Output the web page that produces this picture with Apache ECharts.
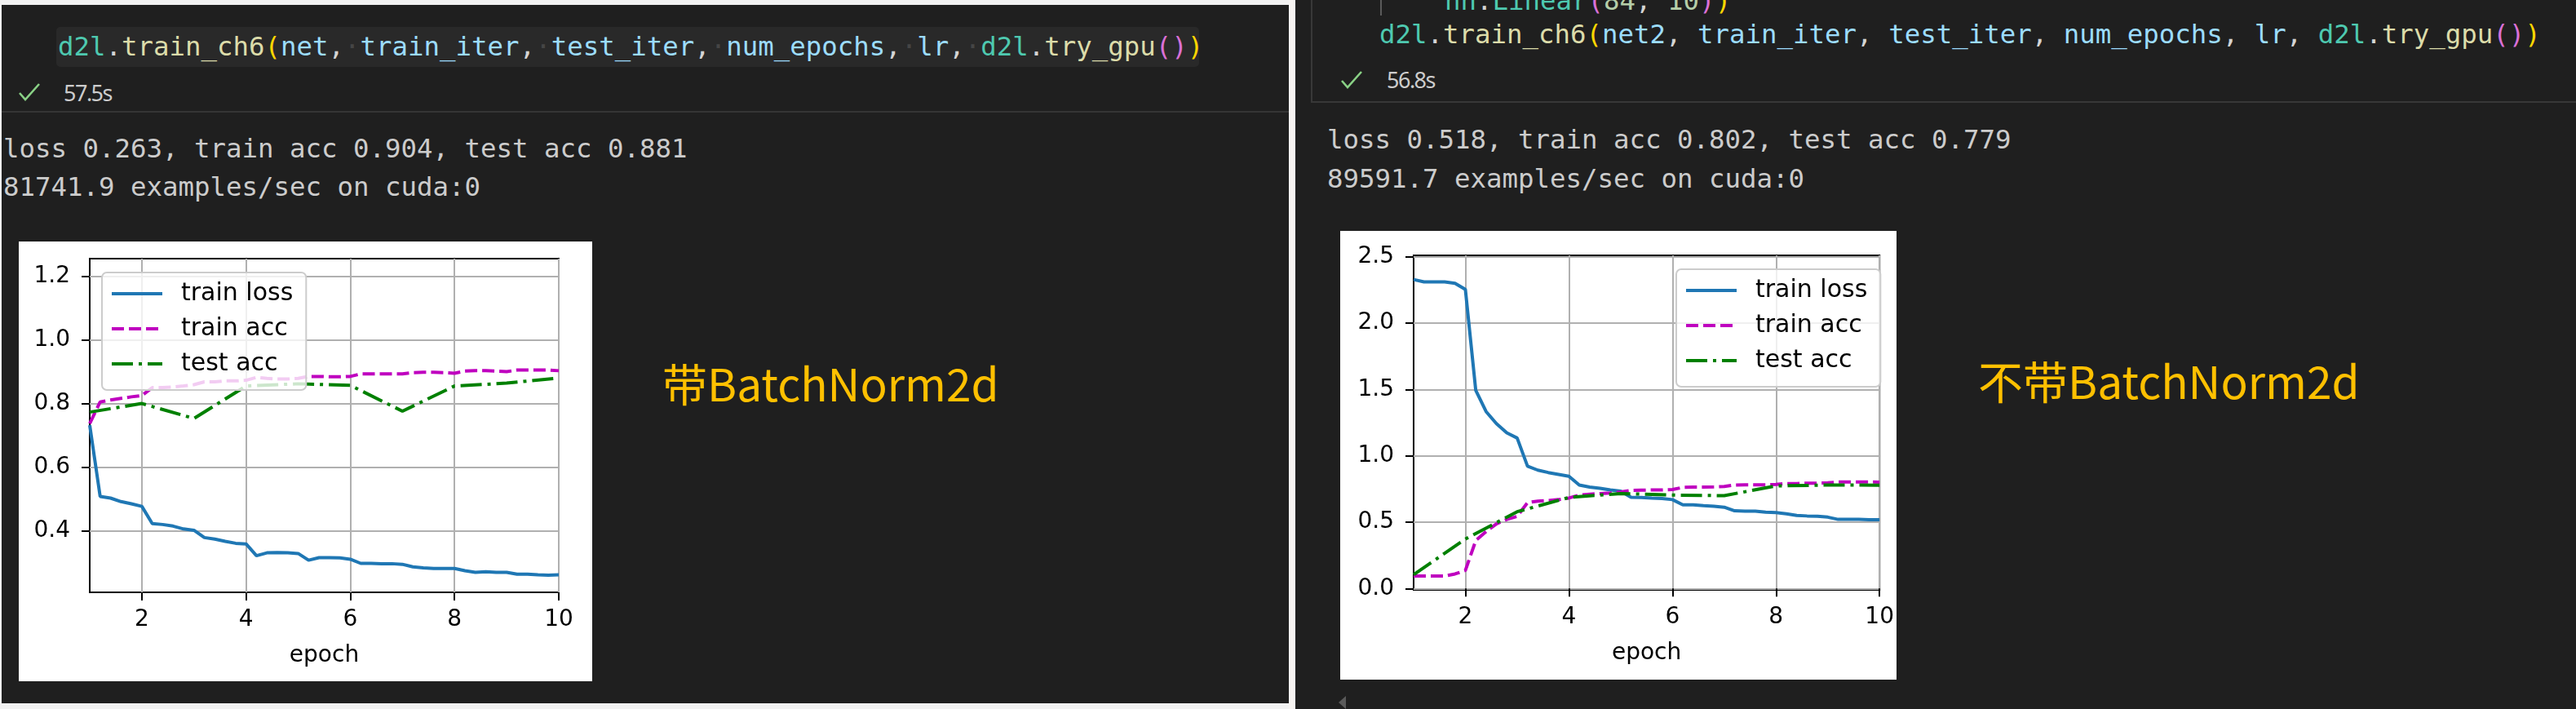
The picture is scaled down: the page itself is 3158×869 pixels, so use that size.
<!DOCTYPE html>
<html>
<head>
<meta charset="utf-8">
<script src="https://cdn.jsdelivr.net/npm/echarts@6/dist/echarts.min.js"></script>
<style>
html,body{margin:0;padding:0;width:3158px;height:869px;overflow:hidden;background:#1f1f1f;}
.abs{position:absolute;white-space:pre;}
.mono{font-family:"DejaVu Sans Mono",monospace;font-size:32.4px;line-height:32px;}
.out{color:#cccccc;}
.t{color:#4EC9B0}.p{color:#D4D4D4}.f{color:#DCDCAA}.v{color:#9CDCFE}.b1{color:#FFD700}.b2{color:#DA70D6}.n{color:#B5CEA8}.ws{color:#454545}
.time{font-family:"Noto Sans",sans-serif;font-size:27px;line-height:27px;color:#cccccc;letter-spacing:-1.5px;}
.note{font-family:"Noto Sans CJK SC",sans-serif;font-size:55px;line-height:55px;color:#FFC000;}
.box{position:absolute;background:#ffffff;}
</style>
</head>
<body>
<!-- window chrome -->
<div class="abs" style="left:0;top:0;width:1588px;height:6px;background:#f2f2f2;"></div>
<div class="abs" style="left:0;top:0;width:2px;height:869px;background:#f2f2f2;"></div>
<div class="abs" style="left:0;top:862px;width:1588px;height:7px;background:#f2f2f2;"></div>
<div class="abs" style="left:1580px;top:0;width:8px;height:869px;background:#f7f4f2;"></div>

<!-- left cell -->
<div class="abs" style="left:69px;top:33px;width:1401px;height:49px;background:#292929;border-radius:5px;"></div>
<div class="abs mono" style="left:71px;top:41px;"><span class="t">d2l</span><span class="p">.</span><span class="f">train_ch6</span><span class="b1">(</span><span class="v">net</span><span class="p">,</span><span class="ws">·</span><span class="v">train_iter</span><span class="p">,</span><span class="ws">·</span><span class="v">test_iter</span><span class="p">,</span><span class="ws">·</span><span class="v">num_epochs</span><span class="p">,</span><span class="ws">·</span><span class="v">lr</span><span class="p">,</span><span class="ws">·</span><span class="t">d2l</span><span class="p">.</span><span class="f">try_gpu</span><span class="b2">()</span><span class="b1">)</span></div>
<svg class="abs" style="left:22px;top:101px;" width="28" height="24"><polyline points="2,13 9,21 26,2" fill="none" stroke="#89d185" stroke-width="2.6"/></svg>
<div class="abs time" style="left:78px;top:100px;">57.5s</div>
<div class="abs" style="left:2px;top:136px;width:1578px;height:2px;background:#353535;"></div>
<div class="abs mono out" style="left:4px;top:166px;">loss 0.263, train acc 0.904, test acc 0.881</div>
<div class="abs mono out" style="left:4px;top:213px;">81741.9 examples/sec on cuda:0</div>
<div class="box" style="left:23px;top:296px;width:703px;height:539px;"><div id="c1" style="width:703px;height:539px;"></div></div>
<div class="abs note" style="left:812px;top:441px;">带BatchNorm2d</div>

<!-- right cell -->
<div class="abs" style="left:1607px;top:-4px;width:1560px;height:128px;border-left:2px solid #383838;border-bottom:2px solid #383838;"></div>
<div class="abs" style="left:1692px;top:0;width:2px;height:19px;background:#5a5a5a;"></div>
<div class="abs mono" style="left:1771px;top:-15px;"><span class="t">nn</span><span class="p">.</span><span class="t">Linear</span><span class="b2">(</span><span class="n">84</span><span class="p">, </span><span class="n">10</span><span class="b2">)</span><span class="b1">)</span></div>
<div class="abs mono" style="left:1691px;top:26px;"><span class="t">d2l</span><span class="p">.</span><span class="f">train_ch6</span><span class="b1">(</span><span class="v">net2</span><span class="p">, </span><span class="v">train_iter</span><span class="p">, </span><span class="v">test_iter</span><span class="p">, </span><span class="v">num_epochs</span><span class="p">, </span><span class="v">lr</span><span class="p">, </span><span class="t">d2l</span><span class="p">.</span><span class="f">try_gpu</span><span class="b2">()</span><span class="b1">)</span></div>
<svg class="abs" style="left:1643px;top:86px;" width="28" height="24"><polyline points="2,13 9,21 26,2" fill="none" stroke="#89d185" stroke-width="2.6"/></svg>
<div class="abs time" style="left:1700px;top:84px;">56.8s</div>
<div class="abs mono out" style="left:1627px;top:155px;">loss 0.518, train acc 0.802, test acc 0.779</div>
<div class="abs mono out" style="left:1627px;top:203px;">89591.7 examples/sec on cuda:0</div>
<div class="box" style="left:1643px;top:283px;width:682px;height:550px;"><div id="c2" style="width:682px;height:550px;"></div></div>
<div class="abs note" style="left:2425px;top:438px;">不带BatchNorm2d</div>
<div class="abs" style="left:1641px;top:853px;width:0;height:0;border-top:8px solid transparent;border-bottom:8px solid transparent;border-right:9px solid #5a5a5a;"></div>

<script>
// ---- data ----
const batchEpochs = [1.0,1.2,1.4,1.6,1.8,2.0,2.2,2.4,2.6,2.8,3.0,3.2,3.4,3.6,3.8,4.0,4.2,4.4,4.6,4.8,5.0,5.2,5.4,5.6,5.8,6.0,6.2,6.4,6.6,6.8,7.0,7.2,7.4,7.6,7.8,8.0,8.2,8.4,8.6,8.8,9.0,9.2,9.4,9.6,9.8,10.0];
const epochs = [1,2,3,4,5,6,7,8,9,10];
const seriesNames = ['train loss','train acc','test acc'];
const xTickValues = [2,4,6,8,10];

// with BatchNorm2d
const bnTrainLoss = [0.733,0.509,0.504,0.493,0.486,0.478,0.424,0.421,0.416,0.407,0.403,0.380,0.375,0.368,0.362,0.360,0.323,0.332,0.333,0.332,0.330,0.309,0.317,0.317,0.316,0.312,0.299,0.299,0.298,0.298,0.296,0.288,0.285,0.283,0.283,0.283,0.276,0.271,0.273,0.271,0.271,0.265,0.265,0.263,0.262,0.263];
const bnTrainAcc = [0.738,0.806,0.812,0.817,0.822,0.826,0.851,0.851,0.853,0.856,0.860,0.869,0.869,0.872,0.872,0.874,0.883,0.880,0.878,0.878,0.880,0.886,0.886,0.885,0.885,0.886,0.894,0.894,0.894,0.894,0.894,0.898,0.899,0.899,0.898,0.896,0.903,0.904,0.904,0.903,0.901,0.906,0.906,0.906,0.906,0.904];
const bnTestAcc = [0.774,0.801,0.754,0.856,0.863,0.858,0.777,0.856,0.865,0.881];
const bnYTicks = [0.4,0.6,0.8,1.0,1.2];

// without BatchNorm2d
const plainTrainLoss = [2.328,2.310,2.310,2.310,2.300,2.253,1.494,1.333,1.242,1.173,1.134,0.922,0.892,0.874,0.860,0.846,0.780,0.764,0.755,0.743,0.734,0.688,0.686,0.682,0.679,0.670,0.631,0.631,0.624,0.620,0.613,0.586,0.583,0.583,0.576,0.572,0.563,0.551,0.547,0.544,0.538,0.521,0.521,0.521,0.519,0.518];
const plainTrainAcc = [0.094,0.094,0.094,0.094,0.110,0.137,0.361,0.430,0.487,0.521,0.544,0.647,0.659,0.663,0.670,0.682,0.704,0.711,0.716,0.720,0.727,0.739,0.741,0.743,0.743,0.746,0.762,0.764,0.764,0.766,0.769,0.780,0.782,0.782,0.782,0.785,0.791,0.791,0.794,0.794,0.796,0.803,0.803,0.803,0.803,0.802];
const plainTestAcc = [0.105,0.373,0.579,0.686,0.716,0.704,0.700,0.773,0.780,0.779];
const plainYTicks = [0.0,0.5,1.0,1.5,2.0,2.5];

const FONT = 'DejaVu Sans';
function zip(xs, ys){ return xs.map((x,i)=>[x, ys[i]]); }

function buildOption(cfg){
  const axisCommon = {
    type:'value',
    axisLine:{show:false},
    axisTick:{show:true, inside:false, length:10, lineStyle:{color:'#000', width:2}},
    splitLine:{show:true, lineStyle:{color:'#b0b0b0', width:2}},
  };
  return {
    animation:false,
    backgroundColor:'#ffffff',
    grid:{left:cfg.grid[0], top:cfg.grid[1], width:cfg.grid[2], height:cfg.grid[3], show:true, borderColor:'#000', borderWidth:2, backgroundColor:'transparent', containLabel:false},
    xAxis:Object.assign({}, axisCommon, {
      min:1, max:10,
      axisTick:Object.assign({}, axisCommon.axisTick, {customValues:xTickValues}),
      axisLabel:{customValues:xTickValues, color:'#000', fontFamily:FONT, fontSize:28, margin:20, formatter:v=>String(v)},
      name:'epoch', nameLocation:'middle', nameGap:64,
      nameTextStyle:{color:'#000', fontFamily:FONT, fontSize:28}
    }),
    yAxis:Object.assign({}, axisCommon, {
      min:cfg.ymin, max:cfg.ymax,
      axisTick:Object.assign({}, axisCommon.axisTick, {customValues:cfg.yTicks}),
      axisLabel:{customValues:cfg.yTicks, color:'#000', fontFamily:FONT, fontSize:28, margin:24, formatter:v=>v.toFixed(1)}
    }),
    legend:{
      orient:'vertical', left:cfg.legend[0], top:cfg.legend[1],
      data:seriesNames,
      itemWidth:62, itemHeight:2, itemGap:13,
      padding:[11,16,17,10],
      itemStyle:{opacity:0},
      lineStyle:{width:4},
      backgroundColor:'rgba(255,255,255,0.8)', borderColor:'#cccccc', borderWidth:2, borderRadius:6,
      textStyle:{color:'#000', fontFamily:FONT, fontSize:30, lineHeight:30, padding:[0,0,0,18]},
      z:10
    },
    series:[
      {name:'train loss', type:'line', data:zip(batchEpochs, cfg.loss), symbol:'none', lineStyle:{color:'#1f77b4', width:4}, itemStyle:{color:'#1f77b4'}},
      {name:'train acc', type:'line', data:zip(batchEpochs, cfg.trainAcc), symbol:'none', lineStyle:{color:'#bf00bf', width:4, type:[15,6]}, itemStyle:{color:'#bf00bf'}},
      {name:'test acc', type:'line', data:zip(epochs, cfg.testAcc), symbol:'none', lineStyle:{color:'#008000', width:4, type:[26,7,4,7]}, itemStyle:{color:'#008000'}}
    ]
  };
}

const c1 = echarts.init(document.getElementById('c1'));
c1.setOption(buildOption({grid:[87,21,575,409], ymin:0.208, ymax:1.256, yTicks:bnYTicks, legend:[102,38], loss:bnTrainLoss, trainAcc:bnTrainAcc, testAcc:bnTestAcc}));
const c2 = echarts.init(document.getElementById('c2'));
c2.setOption(buildOption({grid:[90,30,577,410], ymin:-0.01, ymax:2.51, yTicks:plainYTicks, legend:[412,47], loss:plainTrainLoss, trainAcc:plainTrainAcc, testAcc:plainTestAcc}));
</script>
</body>
</html>
